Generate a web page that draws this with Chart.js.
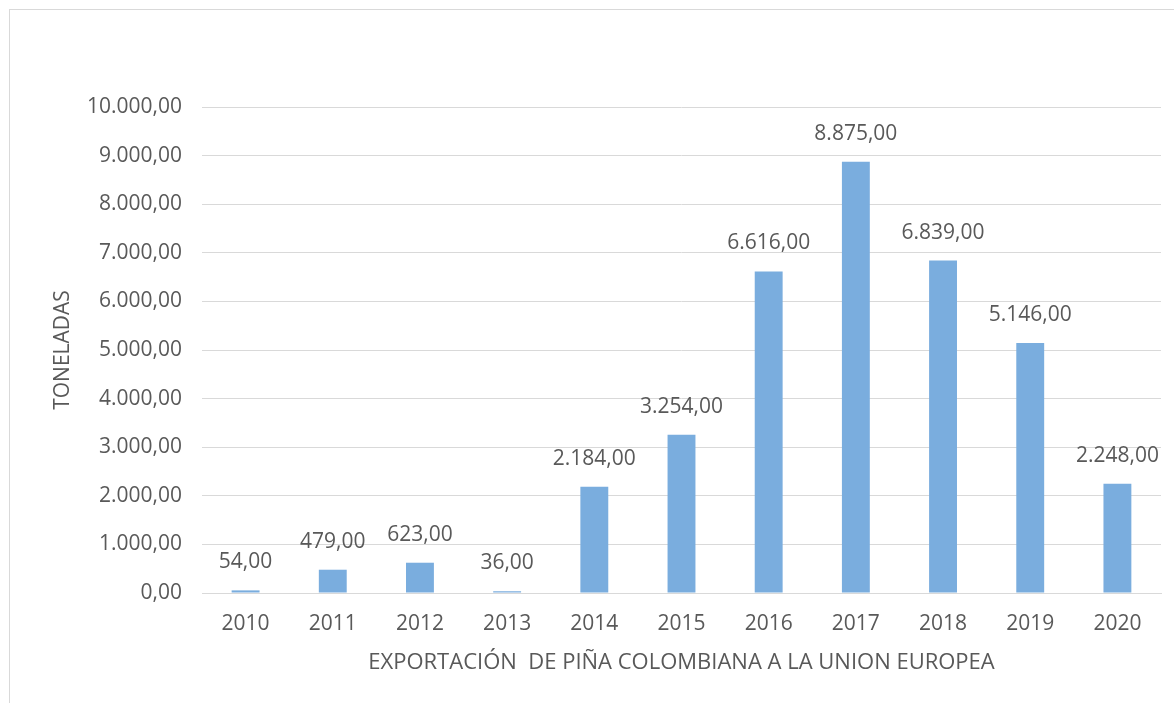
<!DOCTYPE html>
<html>
<head>
<meta charset="utf-8">
<script src="https://cdn.jsdelivr.net/npm/chart.js@4.4.1/dist/chart.umd.min.js"></script>
<style>
    html, body { margin: 0; padding: 0; background: #fff; }
    #wrap { position: relative; width: 1174px; height: 703px; overflow: hidden; }
    #frame { position: absolute; left: 9px; top: 9px; width: 1200px; height: 760px; border: 1px solid #d9d9d9; }
    #chart { position: absolute; left: 0; top: 0; }
</style>
</head>
<body>
<div id="wrap">
    <div id="frame"></div>
    <canvas id="chart" width="1174" height="703"></canvas>
</div>
<script>
// años y toneladas exportadas
var years = ['2010', '2011', '2012', '2013', '2014', '2015', '2016', '2017', '2018', '2019', '2020'];
var toneladas = [54, 479, 623, 36, 2184, 3254, 6616, 8875, 6839, 5146, 2248];
var yMax = 10000;
var yStep = 1000;

var gray = '#595959';
var fontFam = '"Open Sans", sans-serif';

function fmt(v) {
    var parts = Number(v).toFixed(2).split('.');
    var ent = parts[0].replace(/\B(?=(\d{3})+(?!\d))/g, '.');
    return ent + ',' + parts[1];
}

var labelPlugin = {
    id: 'valueLabels',
    afterDatasetsDraw: function(chart) {
        var ctx = chart.ctx;
        var meta = chart.getDatasetMeta(0);
        ctx.save();
        ctx.fillStyle = gray;
        ctx.font = '21px ' + fontFam;
        ctx.textAlign = 'center';
        ctx.textBaseline = 'middle';
        meta.data.forEach(function(bar, i) {
            ctx.fillText(fmt(toneladas[i]), bar.x, bar.y - 28);
        });
        ctx.restore();
    }
};

var ctx = document.getElementById('chart').getContext('2d');
var chart = new Chart(ctx, {
    type: 'bar',
    data: {
        labels: years,
        datasets: [{
            data: toneladas,
            backgroundColor: '#7aadde',
            borderWidth: 0,
            barPercentage: 0.32,
            categoryPercentage: 1
        }]
    },
    options: {
        responsive: false,
        animation: false,
        layout: { padding: { left: 50, right: 13, top: 107, bottom: 22 } },
        plugins: {
            legend: { display: false },
            tooltip: { enabled: false }
        },
        scales: {
            x: {
                grid: { display: false, drawTicks: false },
                border: { display: true, color: '#d9d9d9', width: 1 },
                ticks: { color: gray, font: { family: fontFam, size: 21 }, padding: 18 },
                title: {
                    display: true,
                    text: 'EXPORTACIÓN  DE PIÑA COLOMBIANA A LA UNION EUROPEA',
                    color: gray,
                    font: { family: fontFam, size: 22 },
                    padding: { top: 10, bottom: 5 }
                },
                afterFit: function(s) { s.height = 88; }
            },
            y: {
                min: 0,
                max: yMax,
                ticks: {
                    stepSize: yStep,
                    color: gray,
                    font: { family: fontFam, size: 21 },
                    padding: 20,
                    callback: function(v) { return fmt(v); }
                },
                grid: { color: '#d9d9d9', lineWidth: 1, drawTicks: false },
                border: { display: false },
                title: {
                    display: true,
                    text: 'TONELADAS',
                    color: gray,
                    font: { family: fontFam, size: 21 },
                    padding: { top: 0, bottom: 0 }
                },
                afterFit: function(s) { s.width = 152; }
            }
        }
    },
    plugins: [labelPlugin]
});
</script>
</body>
</html>
